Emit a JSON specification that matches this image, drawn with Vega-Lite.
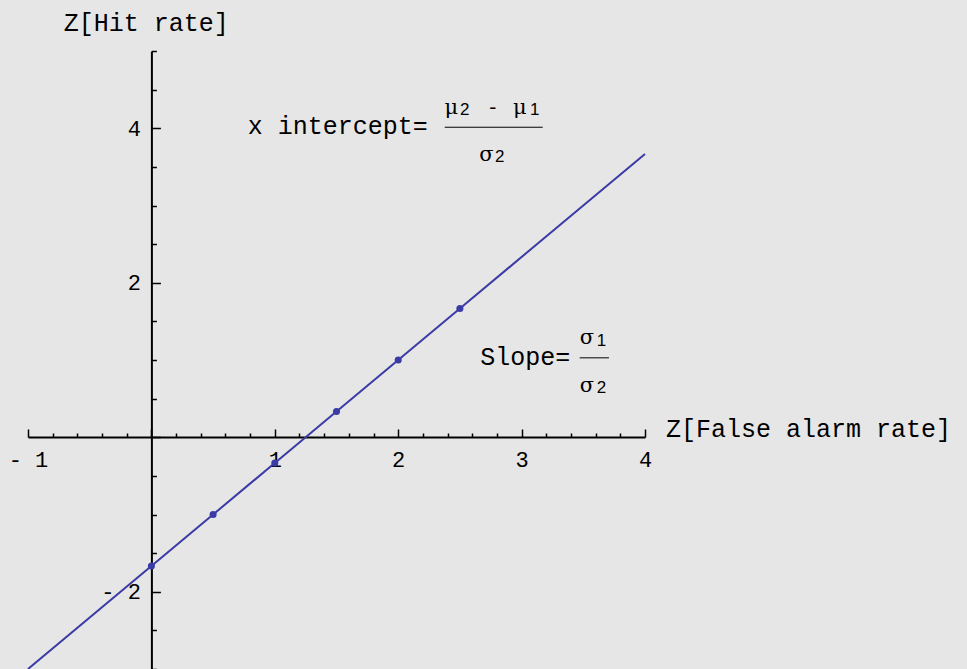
{
  "$schema": "https://vega.github.io/schema/vega-lite/v6.json",
  "width": 617,
  "height": 618,
  "autosize": {"type": "none"},
  "padding": {"left": 28, "top": 51, "right": 322, "bottom": 0},
  "background": "#e6e6e6",
  "config": {"view": {"stroke": null}, "font": "Liberation Mono"},
  "datasets": {
    "roc": [
      {"far": -1, "hit": -3, "sample": false},
      {"far": 0, "hit": -1.667, "sample": true},
      {"far": 0.5, "hit": -1, "sample": true},
      {"far": 1, "hit": -0.333, "sample": true},
      {"far": 1.5, "hit": 0.333, "sample": true},
      {"far": 2, "hit": 1, "sample": true},
      {"far": 2.5, "hit": 1.667, "sample": true},
      {"far": 4, "hit": 3.667, "sample": false}
    ],
    "labels": [
      {"x": -0.71, "y": 5.26, "text": "Z[Hit rate]"},
      {"x": 4.17, "y": 0.0, "text": "Z[False alarm rate]"},
      {"x": 0.78, "y": 3.92, "text": "x intercept="},
      {"x": 2.665, "y": 0.94, "text": "Slope="}
    ],
    "greek": [
      {"x": 2.431, "y": 4.18, "text": "μ", "italic": true},
      {"x": 2.766, "y": 4.18, "text": "-", "italic": false},
      {"x": 2.985, "y": 4.18, "text": "μ", "italic": true},
      {"x": 2.715, "y": 3.574, "text": "σ", "italic": false},
      {"x": 3.530, "y": 1.213, "text": "σ", "italic": false},
      {"x": 3.530, "y": 0.585, "text": "σ", "italic": false}
    ],
    "subscripts": [
      {"x": 2.539, "y": 4.175, "text": "2"},
      {"x": 3.106, "y": 4.175, "text": "1"},
      {"x": 2.823, "y": 3.561, "text": "2"},
      {"x": 3.647, "y": 1.187, "text": "1"},
      {"x": 3.647, "y": 0.572, "text": "2"}
    ],
    "fractionBars": [
      {"x": 2.377, "x2": 3.171, "y": 4.013},
      {"x": 3.471, "x2": 3.708, "y": 1.028}
    ]
  },
  "layer": [
    {
      "data": {"name": "roc"},
      "mark": {"type": "line", "color": "#3b3ba6", "strokeWidth": 2},
      "encoding": {
        "x": {
          "field": "far",
          "type": "quantitative",
          "scale": {"domain": [-1, 4], "nice": false, "zero": false},
          "axis": {
            "orient": "bottom",
            "offset": -232,
            "tickCount": 200,
            "values": [-1, -0.8, -0.6, -0.4, -0.2, 0, 0.2, 0.4, 0.6, 0.8, 1, 1.2, 1.4, 1.6, 1.8, 2, 2.2, 2.4, 2.6, 2.8, 3, 3.2, 3.4, 3.6, 3.8, 4],
            "domainColor": "black",
            "domainWidth": 2,
            "tickColor": "black",
            "tickWidth": 1.5,
            "tickSize": {"condition": {"test": "abs(datum.value - round(datum.value)) < 0.01", "value": -8}, "value": -4},
            "labelExpr": "datum.value == 0 || abs(datum.value - round(datum.value)) > 0.01 ? '' : (datum.value < 0 ? '- ' + format(abs(datum.value), 'd') : format(datum.value, 'd'))",
            "labelFont": "Liberation Mono",
            "labelFontSize": 22,
            "labelColor": "black",
            "labelPadding": 20,
            "labelBaseline": "top",
            "labelFlush": false,
            "labelOverlap": false,
            "grid": false,
            "title": null
          }
        },
        "y": {
          "field": "hit",
          "type": "quantitative",
          "scale": {"domain": [-3, 5], "nice": false, "zero": false},
          "axis": {
            "orient": "left",
            "offset": -123.4,
            "tickCount": 200,
            "values": [-3, -2.5, -2, -1.5, -1, -0.5, 0, 0.5, 1, 1.5, 2, 2.5, 3, 3.5, 4, 4.5, 5],
            "domainColor": "black",
            "domainWidth": 2,
            "tickColor": "black",
            "tickWidth": 1.5,
            "tickSize": {"condition": {"test": "abs(datum.value / 2 - round(datum.value / 2)) < 0.01", "value": -9}, "value": -5},
            "labelExpr": "datum.value == 0 || abs(datum.value / 2 - round(datum.value / 2)) > 0.01 ? '' : (datum.value < 0 ? '- ' + format(abs(datum.value), 'd') : format(datum.value, 'd'))",
            "labelFont": "Liberation Mono",
            "labelFontSize": 22,
            "labelColor": "black",
            "labelPadding": 20,
            "labelBaseline": "middle",
            "labelFlush": false,
            "labelOverlap": false,
            "grid": false,
            "title": null
          }
        }
      }
    },
    {
      "data": {"name": "roc"},
      "transform": [{"filter": "datum.sample"}],
      "mark": {"type": "circle", "color": "#3b3ba6", "opacity": 1, "size": 50},
      "encoding": {
        "x": {"field": "far", "type": "quantitative"},
        "y": {"field": "hit", "type": "quantitative"}
      }
    },
    {
      "data": {"name": "labels"},
      "mark": {"type": "text", "align": "left", "baseline": "alphabetic", "font": "Liberation Mono", "fontSize": 25, "color": "black"},
      "encoding": {
        "x": {"field": "x", "type": "quantitative"},
        "y": {"field": "y", "type": "quantitative"},
        "text": {"field": "text"}
      }
    },
    {
      "data": {"name": "greek"},
      "mark": {"type": "text", "align": "center", "baseline": "alphabetic", "font": "DejaVu Serif", "fontSize": 21, "color": "black"},
      "encoding": {
        "x": {"field": "x", "type": "quantitative"},
        "y": {"field": "y", "type": "quantitative"},
        "text": {"field": "text"},
        "fontStyle": {"condition": {"test": "datum.italic", "value": "italic"}, "value": "normal"}
      }
    },
    {
      "data": {"name": "subscripts"},
      "mark": {"type": "text", "align": "center", "baseline": "alphabetic", "font": "Liberation Sans", "fontSize": 17, "color": "black"},
      "encoding": {
        "x": {"field": "x", "type": "quantitative"},
        "y": {"field": "y", "type": "quantitative"},
        "text": {"field": "text"}
      }
    },
    {
      "data": {"name": "fractionBars"},
      "mark": {"type": "rule", "color": "black", "strokeWidth": 1},
      "encoding": {
        "x": {"field": "x", "type": "quantitative"},
        "x2": {"field": "x2"},
        "y": {"field": "y", "type": "quantitative"}
      }
    }
  ]
}
